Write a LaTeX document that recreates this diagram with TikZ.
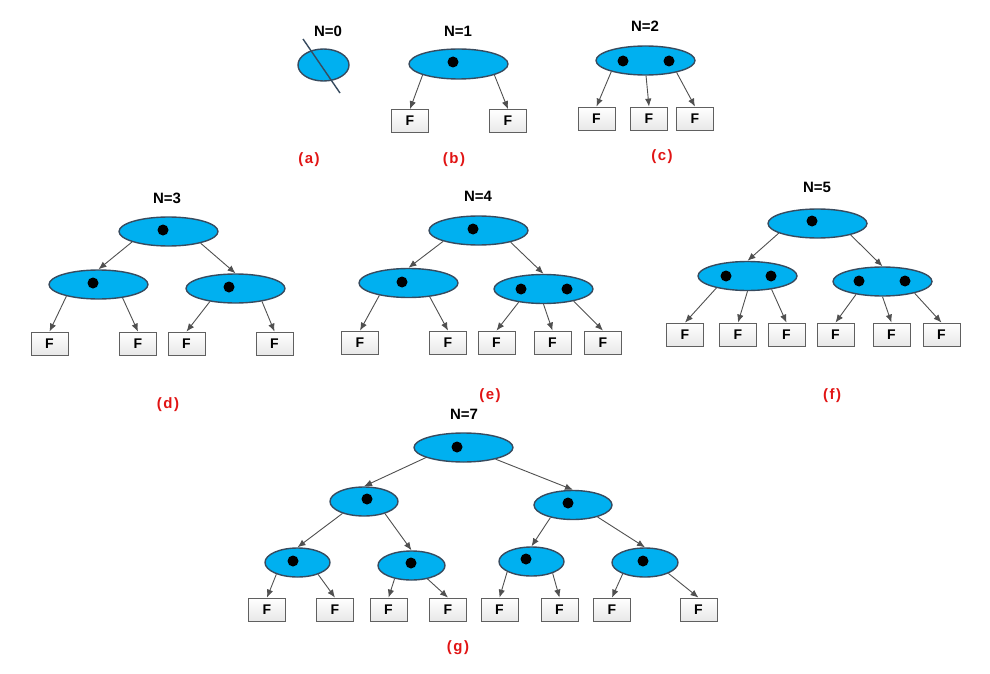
\documentclass[tikz,border=0pt]{standalone}
\usepackage{fontspec}
\setmainfont{Liberation Sans}
\usetikzlibrary{shapes.geometric,arrows.meta}
\definecolor{cellblue}{RGB}{0,176,240}
\definecolor{cellline}{RGB}{55,75,95}
\definecolor{arrowgray}{RGB}{80,80,80}
\definecolor{labred}{RGB}{225,20,20}
\tikzset{
    cell/.style={ellipse, draw=cellline, line width=1.4pt, fill=cellblue, inner sep=0pt,
        minimum width=99pt, minimum height=29pt},
    key/.style={circle, fill=black, inner sep=0pt, minimum size=11pt},
    leaf/.style={draw=gray!75!black, line width=0.8pt, top color=white, bottom color=gray!18,
        minimum width=37pt, minimum height=23pt, inner sep=0pt, font=\bfseries\fontsize{14}{14}\selectfont},
    title/.style={font=\bfseries\fontsize{15}{15}\selectfont},
    caption/.style={text=labred, font=\bfseries\fontsize{15}{15}\selectfont},
    arr/.style={->, draw=arrowgray, line width=0.9pt}
}
\newcommand{\capt}[1]{(\kern1.5pt#1\kern1.5pt)}
\begin{document}
\begin{tikzpicture}[x=1pt, y=-1pt, >={Latex[length=8pt,width=6.5pt]}]
    \useasboundingbox (0,0) rectangle (990,674);

    % (a) N=0
    \node[title] (tA) at (328,31) {N=0};
    \node[cell, minimum width=51pt, minimum height=32pt] (a0) at (323.5,65) {};
    \coordinate (cutA) at (303,39);
    \coordinate (cutB) at (340,93);
    \draw[line width=1.4pt, draw=cellline] (cutA) -- (cutB);
    \node[caption] (capA) at (309,160) {\capt{a}};

    % (b) N=1
    \node[title] (tB) at (458,31) {N=1};
    \node[cell, minimum height=30pt] (b0) at (458.5,64) {};
    \node[key] (b0k) at (453,62) {};
    \node[leaf] (b1) at (410,121) {F};
    \node[leaf] (b2) at (508,121) {F};
    \draw[arr] (b0.197) -- (b1.north);
    \draw[arr] (b0.343) -- (b2.north);
    \node[caption] (capB) at (454,160) {\capt{b}};

    % (c) N=2
    \node[title] (tC) at (645,26) {N=2};
    \node[cell] (c0) at (645.5,60.5) {};
    \node[key] (c0k) at (623,61) {};
    \node[key] (c0l) at (669,61) {};
    \node[leaf] (c1) at (596.5,118.5) {F};
    \node[leaf] (c2) at (649,118.5) {F};
    \node[leaf] (c3) at (695,118.5) {F};
    \draw[arr] (c0.198) -- (c1.north);
    \draw[arr] (c0.272) -- (c2.north);
    \draw[arr] (c0.339) -- (c3.north);
    \node[caption] (capC) at (662,157) {\capt{c}};

    % (d) N=3
    \node[title] (tD) at (167,198) {N=3};
    \node[cell] (d0) at (168.5,231.5) {};
    \node[key] (d0k) at (163,230) {};
    \node[cell] (d1) at (98.5,284.5) {};
    \node[key] (d1k) at (93,283) {};
    \node[cell] (d2) at (235.5,288.5) {};
    \node[key] (d2k) at (229,287) {};
    \foreach \x [count=\i] in {49.5,138,186.5,274.5}
        \node[leaf] (dF\i) at (\x,343.5) {F};
    \draw[arr] (d0.196) -- (d1.north);
    \draw[arr] (d0.340) -- (d2.north);
    \draw[arr] (d1.200) -- (dF1.north);
    \draw[arr] (d1.331) -- (dF2.north);
    \draw[arr] (d2.207) -- (dF3.north);
    \draw[arr] (d2.334) -- (dF4.north);
    \node[caption] (capD) at (168,405) {\capt{d}};

    % (e) N=4
    \node[title] (tE) at (478,196) {N=4};
    \node[cell] (e0) at (478.5,230.5) {};
    \node[key] (e0k) at (473,229) {};
    \node[cell] (e1) at (408.5,283) {};
    \node[key] (e1k) at (402,282) {};
    \node[cell] (e2) at (543.5,289) {};
    \node[key] (e2k) at (521,289) {};
    \node[key] (e2l) at (567,289) {};
    \foreach \x [count=\i] in {360,448,496.5,552.5,603}
        \node[leaf] (eF\i) at (\x,342.5) {F};
    \draw[arr] (e0.197) -- (e1.north);
    \draw[arr] (e0.340) -- (e2.north);
    \draw[arr] (e1.203) -- (eF1.north);
    \draw[arr] (e1.327) -- (eF2.north);
    \draw[arr] (e2.208) -- (eF3.north);
    \draw[arr] (e2.270) -- (eF4.north);
    \draw[arr] (e2.338) -- (eF5.north);
    \node[caption] (capE) at (490,396) {\capt{e}};

    % (f) N=5
    \node[title] (tF) at (817,187) {N=5};
    \node[cell] (f0) at (817.5,223.5) {};
    \node[key] (f0k) at (812,221) {};
    \node[cell] (f1) at (747.5,276) {};
    \node[key] (f1k) at (726,276) {};
    \node[key] (f1l) at (771,276) {};
    \node[cell] (f2) at (882.5,281.5) {};
    \node[key] (f2k) at (859,281) {};
    \node[key] (f2l) at (905,281) {};
    \foreach \x [count=\i] in {685,738,786.5,835.5,891.5,941.5}
        \node[leaf] (fF\i) at (\x,334.5) {F};
    \draw[arr] (f0.194) -- (f1.north);
    \draw[arr] (f0.341) -- (f2.north);
    \draw[arr] (f1.201) -- (fF1.north);
    \draw[arr] (f1.270) -- (fF2.north);
    \draw[arr] (f1.331) -- (fF3.north);
    \draw[arr] (f2.206) -- (fF4.north);
    \draw[arr] (f2.270) -- (fF5.north);
    \draw[arr] (f2.340) -- (fF6.north);
    \node[caption] (capF) at (832,396) {\capt{f}};

    % (g) N=7
    \node[title] (tG) at (464,414) {N=7};
    \node[cell] (g0) at (463.5,447.5) {};
    \node[key] (g0k) at (457,447) {};
    \node[cell, minimum width=68pt] (g1) at (364,501.5) {};
    \node[key] (g1k) at (367,499) {};
    \node[cell, minimum width=78pt] (g2) at (573,505) {};
    \node[key] (g2k) at (568,503) {};
    \node[cell, minimum width=65pt] (g3) at (297.5,562.5) {};
    \node[key] (g3k) at (293,561) {};
    \node[cell, minimum width=67pt] (g4) at (411.5,565.5) {};
    \node[key] (g4k) at (411,563) {};
    \node[cell, minimum width=65pt] (g5) at (531.5,561.5) {};
    \node[key] (g5k) at (526,559) {};
    \node[cell, minimum width=66pt] (g6) at (645,562.5) {};
    \node[key] (g6k) at (643,561) {};
    \foreach \x [count=\i] in {267,335,388.5,448,499.5,559.5,612,698.5}
        \node[leaf] (gF\i) at (\x,609.5) {F};
    \draw[arr] (g0.195) -- (g1.north);
    \draw[arr] (g0.340) -- (g2.north);
    \draw[arr] (g1.209) -- (g3.north);
    \draw[arr] (g1.330) -- (g4.north);
    \draw[arr] (g2.209) -- (g5.north);
    \draw[arr] (g2.334) -- (g6.north);
    \draw[arr] (g3.209) -- (gF1.north);
    \draw[arr] (g3.330) -- (gF2.north);
    \draw[arr] (g4.218) -- (gF3.north);
    \draw[arr] (g4.320) -- (gF4.north);
    \draw[arr] (g5.203) -- (gF5.north);
    \draw[arr] (g5.331) -- (gF6.north);
    \draw[arr] (g6.207) -- (gF7.north);
    \draw[arr] (g6.335) -- (gF8.north);
    \node[caption] (capG) at (458,648) {\capt{g}};

\end{tikzpicture}
\end{document}
